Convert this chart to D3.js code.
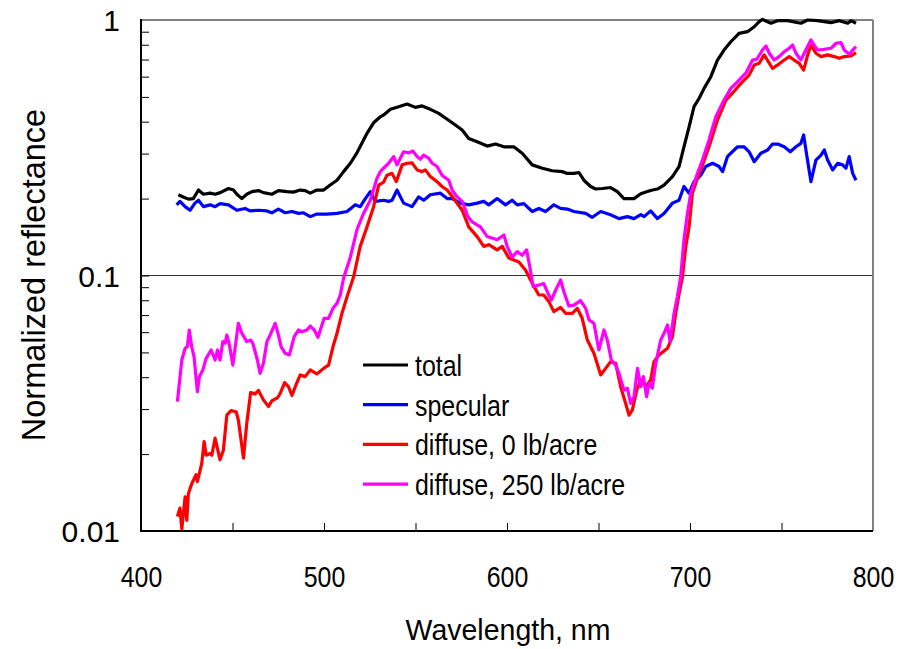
<!DOCTYPE html>
<html lang="en">
<head>
<meta charset="utf-8" />
<title>Normalized reflectance vs wavelength</title>
<script src="https://d3js.org/d3.v7.min.js"></script>
<style>
  body { margin: 0; background: #fff; }
  text { font-family: "Liberation Sans", Arial, sans-serif; }
</style>
</head>
<body>
<script>
// [wavelength nm, normalized reflectance]
var total = [[420.4,0.207],[423.1,0.203],[425.9,0.199],[428.6,0.200],[431.4,0.216],[434.1,0.208],[437.8,0.210],[440.5,0.208],[443.3,0.211],[447.8,0.219],[450.5,0.216],[452.4,0.208],[455.1,0.200],[457.8,0.208],[460.6,0.213],[464.2,0.215],[466.9,0.211],[471.5,0.208],[475.1,0.215],[479.7,0.213],[483.3,0.212],[487.0,0.216],[489.7,0.215],[492.5,0.210],[496.1,0.216],[499.8,0.216],[503.4,0.226],[507.1,0.236],[510.7,0.255],[514.4,0.275],[518.0,0.302],[521.6,0.339],[523.5,0.360],[527.1,0.396],[530.8,0.418],[532.6,0.425],[536.3,0.447],[540.8,0.458],[545.4,0.469],[549.9,0.455],[553.6,0.461],[558.1,0.447],[562.7,0.431],[567.3,0.409],[571.8,0.388],[575.5,0.371],[579.1,0.344],[583.7,0.334],[589.2,0.321],[593.7,0.327],[598.3,0.319],[603.7,0.319],[608.3,0.301],[613.8,0.271],[619.3,0.263],[624.7,0.257],[630.2,0.255],[632.9,0.251],[636.6,0.251],[639.3,0.253],[642.0,0.236],[645.7,0.223],[648.4,0.218],[652.1,0.219],[656.6,0.221],[660.3,0.213],[663.9,0.200],[669.4,0.200],[673.1,0.209],[676.7,0.213],[679.5,0.216],[682.2,0.218],[685.8,0.226],[690.4,0.244],[694.0,0.267],[696.7,0.319],[699.5,0.382],[702.2,0.458],[705.0,0.494],[707.7,0.540],[711.4,0.600],[715.0,0.697],[718.6,0.763],[722.3,0.822],[726.8,0.887],[731.4,0.900],[735.1,0.941],[737.8,0.985],[739.6,1.006],[744.2,0.971],[747.8,0.994],[753.3,0.994],[760.6,0.971],[764.3,1.0],[769.7,0.994],[777.0,0.976],[781.6,0.994],[786.2,0.971],[788.0,0.994],[790.7,0.971]];

var specular = [[419.5,0.189],[421.3,0.195],[424.1,0.186],[426.8,0.180],[429.5,0.192],[431.4,0.197],[434.1,0.186],[437.8,0.189],[440.5,0.186],[443.2,0.191],[447.8,0.189],[452.4,0.180],[456.9,0.183],[459.6,0.179],[464.2,0.180],[468.8,0.179],[471.5,0.176],[475.1,0.182],[478.8,0.176],[482.5,0.178],[486.1,0.175],[488.8,0.176],[492.5,0.170],[496.1,0.174],[501.6,0.174],[507.1,0.175],[512.6,0.178],[517.1,0.189],[519.8,0.186],[522.6,0.200],[525.3,0.213],[528.0,0.195],[532.6,0.197],[535.3,0.195],[537.2,0.197],[539.9,0.216],[543.5,0.192],[548.1,0.186],[551.7,0.203],[554.5,0.197],[558.1,0.207],[563.6,0.210],[567.3,0.200],[570.0,0.200],[574.6,0.192],[579.1,0.189],[583.7,0.192],[587.3,0.195],[590.0,0.189],[594.6,0.200],[599.2,0.189],[602.8,0.197],[605.6,0.189],[609.2,0.191],[613.8,0.178],[617.4,0.183],[621.1,0.178],[625.6,0.189],[629.3,0.183],[632.9,0.182],[636.6,0.178],[643.0,0.175],[646.6,0.169],[651.2,0.178],[656.6,0.173],[661.2,0.167],[665.8,0.170],[669.4,0.167],[673.1,0.173],[674.9,0.170],[678.5,0.179],[682.2,0.167],[685.8,0.175],[690.4,0.192],[694.0,0.197],[696.7,0.223],[699.5,0.210],[702.2,0.233],[705.9,0.247],[708.6,0.267],[712.3,0.275],[715.9,0.267],[717.8,0.255],[720.5,0.292],[722.3,0.301],[726.0,0.319],[729.6,0.319],[732.3,0.305],[735.1,0.279],[738.7,0.301],[742.4,0.310],[745.1,0.327],[747.9,0.327],[751.5,0.319],[754.8,0.305],[757.9,0.319],[760.6,0.329],[762.1,0.355],[763.9,0.292],[766.1,0.233],[768.8,0.283],[771.6,0.296],[773.4,0.310],[775.2,0.283],[778.0,0.259],[780.7,0.275],[783.4,0.271],[785.2,0.263],[787.0,0.292],[788.9,0.251],[790.7,0.236]];

var diffuse0 = [[419.9,0.0114],[421.3,0.0123],[422.3,0.0102],[424.1,0.0136],[425.0,0.0110],[425.9,0.0140],[427.7,0.0153],[430.1,0.0166],[430.8,0.0156],[433.2,0.0184],[434.5,0.0224],[435.6,0.0198],[437.8,0.0201],[438.7,0.0198],[440.5,0.0231],[443.2,0.0190],[445.0,0.0207],[446.9,0.0284],[449.2,0.0296],[452.0,0.0293],[453.2,0.0272],[456.0,0.0193],[457.8,0.0264],[459.9,0.0348],[462.4,0.0344],[464.2,0.0355],[466.9,0.0326],[469.7,0.0307],[471.5,0.0323],[474.7,0.0333],[476.1,0.0346],[478.5,0.0381],[480.6,0.0367],[482.5,0.0339],[484.3,0.0367],[487.0,0.0408],[489.7,0.0402],[492.5,0.0427],[496.1,0.0412],[499.8,0.0433],[502.5,0.0446],[504.9,0.0526],[507.1,0.0594],[509.8,0.0711],[512.6,0.0826],[514.4,0.0904],[516.2,0.0989],[519.8,0.130],[523.5,0.155],[527.1,0.186],[529.9,0.226],[532.6,0.232],[534.4,0.247],[537.2,0.251],[539.5,0.233],[542.7,0.271],[545.4,0.275],[548.1,0.276],[550.9,0.259],[553.6,0.255],[555.4,0.259],[558.1,0.244],[561.8,0.233],[564.5,0.223],[567.3,0.216],[570.9,0.200],[575.5,0.180],[579.1,0.155],[583.7,0.142],[587.3,0.130],[590.1,0.132],[594.6,0.126],[597.4,0.130],[601.0,0.117],[606.5,0.113],[610.1,0.105],[613.8,0.0932],[617.4,0.0839],[620.1,0.0839],[622.9,0.0790],[625.6,0.0722],[629.3,0.0750],[632.0,0.0711],[635.7,0.0711],[638.4,0.0744],[641.1,0.0680],[643.9,0.0559],[647.5,0.0496],[651.2,0.0408],[653.9,0.0433],[656.6,0.0460],[659.4,0.0453],[662.1,0.0367],[664.8,0.0316],[666.7,0.0284],[668.5,0.0298],[670.9,0.0356],[673.1,0.0390],[675.8,0.0367],[678.5,0.0390],[680.3,0.0460],[683.1,0.0489],[687.7,0.0519],[690.4,0.0576],[692.2,0.0711],[694.1,0.0852],[695.9,0.0989],[697.7,0.130],[699.5,0.155],[701.3,0.210],[704.1,0.241],[705.9,0.259],[710.4,0.319],[715.0,0.406],[719.6,0.486],[723.2,0.517],[727.8,0.565],[732.3,0.609],[735.1,0.667],[737.8,0.677],[740.5,0.730],[745.1,0.647],[747.9,0.667],[751.5,0.697],[754.2,0.719],[756.9,0.697],[759.7,0.677],[762.1,0.637],[764.3,0.730],[766.1,0.798],[768.8,0.741],[771.6,0.719],[775.2,0.730],[778.8,0.719],[781.6,0.708],[784.3,0.719],[788.0,0.723],[790.7,0.745]];

var diffuse250 = [[419.9,0.0321],[422.3,0.0467],[424.1,0.0519],[425.3,0.0526],[426.4,0.0612],[427.7,0.0526],[429.0,0.0481],[430.8,0.0351],[431.9,0.0402],[433.8,0.0427],[435.6,0.0474],[438.3,0.0511],[440.5,0.0467],[441.8,0.0511],[443.2,0.0467],[444.7,0.0551],[446.0,0.0543],[446.9,0.0585],[448.3,0.0535],[450.2,0.0446],[453.2,0.0650],[455.1,0.0594],[457.8,0.0551],[460.0,0.0559],[461.1,0.0543],[463.6,0.0467],[465.1,0.0414],[466.9,0.0453],[468.8,0.0551],[470.6,0.0585],[473.3,0.0650],[475.1,0.0585],[476.6,0.0526],[478.8,0.0496],[481.1,0.0489],[483.7,0.0576],[486.1,0.0612],[487.9,0.0603],[490.7,0.0612],[492.5,0.0634],[494.7,0.0612],[496.7,0.0573],[498.3,0.0621],[500.1,0.0680],[502.5,0.0680],[504.9,0.0744],[507.1,0.0778],[508.9,0.0839],[510.7,0.0978],[514.4,0.118],[518.0,0.151],[521.6,0.175],[525.3,0.197],[529.0,0.241],[530.8,0.255],[532.6,0.263],[535.3,0.275],[538.1,0.292],[539.9,0.271],[543.5,0.305],[546.3,0.302],[548.5,0.307],[550.9,0.292],[552.7,0.285],[554.5,0.296],[557.2,0.288],[559.1,0.275],[561.8,0.267],[564.5,0.247],[568.2,0.236],[570.0,0.216],[572.8,0.203],[575.5,0.195],[578.6,0.170],[581.0,0.162],[585.5,0.155],[589.2,0.142],[594.6,0.138],[598.3,0.144],[600.1,0.130],[602.8,0.118],[605.6,0.124],[608.3,0.120],[610.7,0.126],[612.5,0.108],[614.3,0.0904],[617.4,0.0918],[620.1,0.0930],[622.0,0.0864],[624.2,0.0802],[627.5,0.0904],[629.3,0.0960],[631.1,0.0864],[633.8,0.0760],[636.6,0.0766],[640.2,0.0798],[643.0,0.0744],[644.8,0.0670],[647.5,0.0650],[650.2,0.0511],[653.0,0.0612],[654.8,0.0559],[657.0,0.0467],[659.4,0.0446],[661.2,0.0414],[663.9,0.0356],[665.8,0.0362],[667.6,0.0316],[669.4,0.0335],[671.3,0.0433],[673.1,0.0367],[674.5,0.0402],[676.3,0.0335],[677.6,0.0379],[679.4,0.0362],[681.3,0.0453],[684.0,0.0559],[685.8,0.0594],[687.7,0.0640],[689.1,0.0551],[691.3,0.0711],[693.1,0.0826],[695.0,0.100],[696.7,0.138],[698.6,0.175],[700.4,0.210],[704.1,0.251],[706.8,0.283],[710.4,0.339],[714.1,0.418],[718.6,0.486],[722.3,0.540],[726.0,0.574],[730.5,0.619],[734.2,0.697],[736.5,0.702],[739.6,0.763],[741.5,0.791],[743.3,0.741],[746.0,0.697],[748.7,0.719],[751.5,0.751],[754.2,0.775],[756.1,0.798],[757.9,0.741],[760.6,0.697],[763.3,0.763],[766.1,0.835],[769.7,0.763],[773.4,0.768],[777.0,0.775],[779.8,0.811],[782.5,0.815],[784.3,0.763],[787.1,0.734],[788.9,0.763],[790.7,0.786]];

var seriesNames = ["total", "specular", "diffuse, 0 lb/acre", "diffuse, 250 lb/acre"];
var seriesColors = ["#000000", "#0000ff", "#ff0000", "#ff00ff"];
var xTicks = [400, 450, 500, 550, 600, 650, 700, 750, 800];
var yMajor = [0.01, 0.1, 1];

var width = 907, height = 649;
var margin = { left: 141, right: 873, top: 20, bottom: 531 };

var svg = d3.select("body").append("svg")
  .attr("width", width)
  .attr("height", height);

var x = d3.scaleLinear().domain([400, 800]).range([margin.left, margin.right]);
var y = d3.scaleLog().domain([0.01, 1]).range([margin.bottom, margin.top]);

// all log ticks 0.01 .. 1
var yTicks = [];
[0.01, 0.1].forEach(function (d) {
  for (var k = 1; k < 10; k++) yTicks.push(+(d * k).toPrecision(2));
});
yTicks.push(1);

// gridline at 0.1
svg.append("line")
  .attr("x1", margin.left).attr("x2", margin.right)
  .attr("y1", y(0.1)).attr("y2", y(0.1))
  .attr("stroke", "#333").attr("stroke-width", 1);

// x axis
var sx = 0.83;
var gx = svg.append("g")
  .attr("transform", "translate(0," + margin.bottom + ")")
  .call(d3.axisBottom(x).tickValues(xTicks).tickSize(-8).tickPadding(35)
    .tickFormat(function (d) { return d % 100 === 0 ? d : ""; }));
gx.select(".domain").remove();
gx.selectAll(".tick line").attr("stroke", "#000").attr("stroke-width", 1);
gx.selectAll(".tick text")
  .attr("font-size", 30)
  .attr("font-family", "Liberation Sans, Arial, sans-serif")
  .attr("fill", "#000")
  .attr("x", 0)
  .attr("transform", "scale(" + sx + ",1)");

// y axis
var gy = svg.append("g")
  .attr("transform", "translate(" + margin.left + ",0)")
  .call(d3.axisLeft(y).tickValues(yTicks).tickSize(-8)
    .tickFormat(function (d) { return yMajor.indexOf(d) >= 0 ? d : ""; }));
gy.select(".domain").remove();
gy.selectAll(".tick line").attr("stroke", "#000").attr("stroke-width", 1);
gy.selectAll(".tick text")
  .attr("font-size", 30)
  .attr("font-family", "Liberation Sans, Arial, sans-serif")
  .attr("fill", "#000")
  .attr("x", -21)
  .attr("dy", "0.36em");

// frame
svg.append("line").attr("x1", margin.left).attr("x2", margin.right)
  .attr("y1", margin.top).attr("y2", margin.top)
  .attr("stroke", "#808080").attr("stroke-width", 2);
svg.append("line").attr("x1", margin.right).attr("x2", margin.right)
  .attr("y1", margin.top).attr("y2", margin.bottom)
  .attr("stroke", "#808080").attr("stroke-width", 2);
svg.append("line").attr("x1", margin.left).attr("x2", margin.left)
  .attr("y1", margin.top - 1).attr("y2", margin.bottom + 1)
  .attr("stroke", "#000").attr("stroke-width", 2);
svg.append("line").attr("x1", margin.left).attr("x2", margin.right)
  .attr("y1", margin.bottom).attr("y2", margin.bottom)
  .attr("stroke", "#000").attr("stroke-width", 2);

// curves
var line = d3.line()
  .x(function (d) { return x(d[0]); })
  .y(function (d) { return y(d[1]); });

[total, specular, diffuse0, diffuse250].forEach(function (s, i) {
  svg.append("path")
    .datum(s)
    .attr("fill", "none")
    .attr("stroke", seriesColors[i])
    .attr("stroke-width", 3.2)
    .attr("stroke-linejoin", "round")
    .attr("d", line);
});

// legend
var legend = svg.append("g").attr("transform", "translate(363,365)");
var item = legend.selectAll("g")
  .data(seriesNames)
  .enter()
  .append("g")
  .attr("transform", function (d, i) { return "translate(0," + (i * 39.7) + ")"; });
item.append("line")
  .attr("x1", 0).attr("x2", 45)
  .attr("stroke", function (d, i) { return seriesColors[i]; })
  .attr("stroke-width", 3.2);
item.append("text")
  .attr("transform", "translate(52,11) scale(0.86,1)")
  .attr("font-size", 29)
  .text(function (d) { return d; });

// axis titles
svg.append("text")
  .attr("transform", "translate(508,640) scale(0.95,1)")
  .attr("text-anchor", "middle")
  .attr("font-size", 30)
  .text("Wavelength, nm");

svg.append("text")
  .attr("transform", "translate(45,275) rotate(-90)")
  .attr("text-anchor", "middle")
  .attr("font-size", 32.5)
  .text("Normalized reflectance");
</script>
</body>
</html>
